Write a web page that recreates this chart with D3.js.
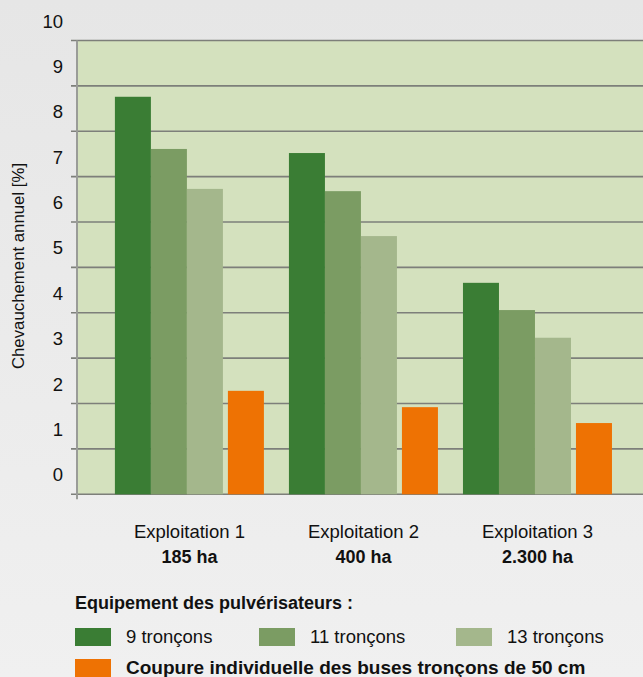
<!DOCTYPE html>
<html>
<head>
<meta charset="utf-8">
<title>Chevauchement annuel</title>
<script src="https://d3js.org/d3.v7.min.js"></script>
<style>
  body { margin: 0; background: #efefef; }
  svg { display: block; font-family: "Liberation Sans", Arial, sans-serif; }
</style>
</head>
<body>
<svg id="chart" width="643" height="677"></svg>
<script>
// data
var farms = ["Exploitation 1", "Exploitation 2", "Exploitation 3"];
var areas = ["185 ha", "400 ha", "2.300 ha"];
var seriesKeys = ["9 tronçons", "11 tronçons", "13 tronçons", "Coupure individuelle des buses tronçons de 50 cm"];
var s9 = [8.76, 7.52, 4.66];
var s11 = [7.61, 6.68, 4.06];
var s13 = [6.73, 5.69, 3.45];
var sBuses = [2.28, 1.92, 1.57];
var yTicks = [0, 1, 2, 3, 4, 5, 6, 7, 8, 9, 10];

var colors = ["#3a7d34", "#7b9c63", "#a4b78c", "#ee7203"];
var allSeries = [s9, s11, s13, sBuses];

var svg = d3.select("#chart");
var plotLeft = 77, plotRight = 643, plotTop = 40.5, plotBottom = 494.3;

// background gradient
var grad = svg.append("defs").append("linearGradient")
	.attr("id", "bg").attr("x1", 0).attr("y1", 0).attr("x2", 0).attr("y2", 1);
grad.append("stop").attr("offset", "0%").attr("stop-color", "#e6e6e6");
grad.append("stop").attr("offset", "100%").attr("stop-color", "#f0f0f0");
svg.append("rect").attr("width", 643).attr("height", 677).attr("fill", "url(#bg)");

var y = d3.scaleLinear().domain([0, 10]).range([plotBottom, plotTop]);
var x0 = d3.scaleBand().domain(farms).range([plotLeft, plotRight])
	.paddingInner(0.1437).paddingOuter(0.198).align(0.55);
var x1 = d3.scaleBand().domain(seriesKeys).range([0, 144]);

// plot area
svg.append("rect")
	.attr("x", plotLeft).attr("y", plotTop)
	.attr("width", plotRight - plotLeft).attr("height", plotBottom - plotTop)
	.attr("fill", "#d4e1be");

// gridlines
svg.append("g").selectAll("line").data(yTicks).join("line")
	.attr("x1", plotLeft - 6).attr("x2", plotRight)
	.attr("y1", function(d){ return y(d); }).attr("y2", function(d){ return y(d); })
	.attr("stroke", "#7d7f7a").attr("stroke-width", 1.6);

// bars
farms.forEach(function(f, i){
	var g = svg.append("g").attr("transform", "translate(" + x0(f) + ",0)");
	g.selectAll("rect").data(seriesKeys).join("rect")
		.attr("x", function(k, j){ return x1(k) + (j == 3 ? 5 : 0); })
		.attr("width", 36)
		.attr("y", function(k, j){ return y(allSeries[j][i]); })
		.attr("height", function(k, j){ return plotBottom - y(allSeries[j][i]); })
		.attr("fill", function(k, j){ return colors[j]; });
});

// axis line
svg.append("line")
	.attr("x1", plotLeft).attr("x2", plotLeft).attr("y1", plotTop).attr("y2", plotBottom + 5)
	.attr("stroke", "#9a9c98").attr("stroke-width", 2);

// y tick labels sit above their gridline
svg.append("g").selectAll("text").data(yTicks).join("text")
	.attr("x", 63).attr("y", function(d){ return y(d) - 13; })
	.attr("text-anchor", "end")
	.attr("font-size", 18.5).attr("fill", "#111")
	.text(function(d){ return d; });

svg.append("text")
	.attr("transform", "translate(24,266) rotate(-90)")
	.attr("text-anchor", "middle")
	.attr("font-size", 16.8).attr("fill", "#111")
	.text("Chevauchement annuel [%]");

// x labels
farms.forEach(function(f, i){
	var cx = x0(f) + x0.bandwidth() / 2;
	svg.append("text").attr("x", cx).attr("y", 538)
		.attr("text-anchor", "middle").attr("font-size", 18.5).attr("fill", "#111")
		.text(f);
	svg.append("text").attr("x", cx).attr("y", 563)
		.attr("text-anchor", "middle").attr("font-size", 18).attr("font-weight", "bold").attr("fill", "#111")
		.text(areas[i]);
});

// legend
svg.append("text").attr("x", 75).attr("y", 609)
	.attr("font-size", 18).attr("font-weight", "bold").attr("fill", "#111")
	.text("Equipement des pulvérisateurs :");

var legendPos = [[75, 628], [259, 628], [456, 628], [75, 659]];
seriesKeys.forEach(function(k, j){
	var p = legendPos[j];
	svg.append("rect").attr("x", p[0]).attr("y", p[1]).attr("width", 36).attr("height", 18)
		.attr("fill", colors[j]);
	svg.append("text").attr("x", p[0] + 51).attr("y", p[1] + 15)
		.attr("font-size", j == 3 ? 19 : 18.5).attr("fill", "#111")
		.attr("font-weight", j == 3 ? "bold" : "normal")
		.text(k);
});
</script>
</body>
</html>
